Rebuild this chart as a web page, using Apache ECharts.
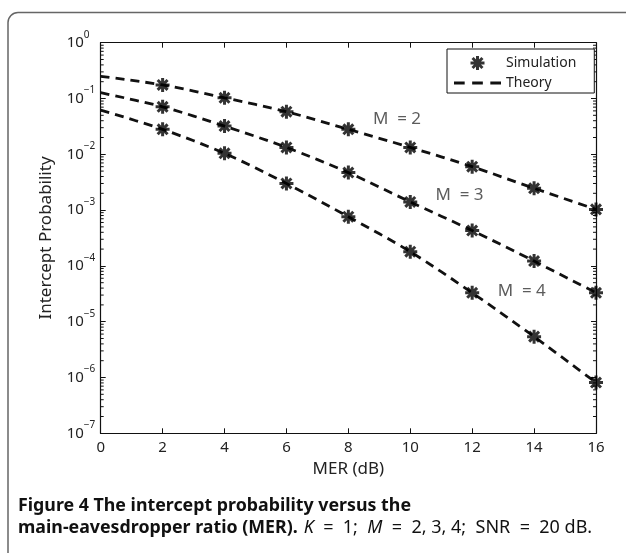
<!DOCTYPE html>
<html><head><meta charset="utf-8">
<script src="https://cdn.jsdelivr.net/npm/echarts@6/dist/echarts.min.js"></script>
<style>html,body{margin:0;padding:0;background:#fff}#c{width:626px;height:553px}</style>
</head><body><div id="c"></div>
<script>
// ---- data ----
const theoryX = [0, 2, 4, 6, 8, 10, 12, 14, 16];
const theoryM2 = [0.25, 0.175, 0.103, 0.058, 0.028, 0.0133, 0.006, 0.00246, 0.00103];
const theoryM3 = [0.127, 0.071, 0.032, 0.0133, 0.0047, 0.0014, 4.3e-4, 1.22e-4, 3.3e-5];
const theoryM4 = [0.062, 0.028, 0.0104, 0.0030, 7.6e-4, 1.8e-4, 3.3e-5, 5.4e-6, 8.1e-7];
const simX = [2, 4, 6, 8, 10, 12, 14, 16];
const simM2 = [0.175, 0.103, 0.058, 0.028, 0.0133, 0.006, 0.00246, 0.00103];
const simM3 = [0.071, 0.032, 0.0133, 0.0047, 0.0014, 4.3e-4, 1.22e-4, 3.3e-5];
const simM4 = [0.028, 0.0104, 0.0030, 7.6e-4, 1.8e-4, 3.3e-5, 5.4e-6, 8.1e-7];
const xTicks = [0, 2, 4, 6, 8, 10, 12, 14, 16];
const yTickExponents = ['0', '\u22121', '\u22122', '\u22123', '\u22124', '\u22125', '\u22126', '\u22127'];
const annoText = ['M  = 2', 'M  = 3', 'M  = 4'];
const annoX = [9.57, 11.59, 13.6];
const annoY = [0.0424, 0.00187, 3.6e-5];
const minorMultipliers = [2, 3, 4, 5, 6, 7, 8, 9];
const decades = [1e-7, 1e-6, 1e-5, 1e-4, 1e-3, 1e-2, 1e-1];
const captionLine1 = 'Figure 4 The intercept probability versus the';
const captionLine2Bold = 'main-eavesdropper ratio (MER).';
const captionLine2Rest = '{i|K}  =  1;  {i|M}  =  2, 3, 4;  SNR  =  20 dB.';

const FONT = 'Noto Sans';
const INK = '#111';
const STAR = 'path://M-7,-1.5L7,-1.5L7,1.5L-7,1.5ZM-1.5,-7L1.5,-7L1.5,7L-1.5,7ZM-3.89,-6.01L6.01,3.89L3.89,6.01L-6.01,-3.89ZM-6.01,3.89L3.89,-6.01L6.01,-3.89L-3.89,6.01Z';
const DASH_ICON = 'path://M0,0L10,0L10,3L0,3ZM17,0L27,0L27,3L17,3ZM34,0L44,0L44,3L34,3Z';

const zip = (xs, ys) => xs.map((x, i) => [x, ys[i]]);
const minorData = [];
decades.forEach(d => minorMultipliers.forEach(m => minorData.push([0, m * d])));

const mctx = document.createElement('canvas').getContext('2d');
function textWidth(t, font) { mctx.font = font; return mctx.measureText(t).width; }
const CAP_SIZE = 18;
const capBoldFont = 'bold ' + CAP_SIZE + 'px "' + FONT + '"';
const capScale = 393 / textWidth(captionLine1, capBoldFont);
const restX = 18 + textWidth(captionLine2Bold, capBoldFont) * capScale + 6;

const chart = echarts.init(document.getElementById('c'), null, {renderer: 'canvas'});

function lineSeries(data) {
  return {
    type: 'line', name: 'Theory', data: data, smooth: 0.3, showSymbol: false, symbol: 'none',
    lineStyle: {color: INK, width: 2.8, type: [9, 6]}, itemStyle: {color: INK},
    silent: true, z: 2
  };
}
function simSeries(data) {
  return {
    type: 'scatter', name: 'Simulation', data: data, symbol: STAR, symbolSize: 14,
    itemStyle: {color: '#000'}, silent: true, z: 3
  };
}

const option = {
  animation: false,
  textStyle: {fontFamily: FONT},
  grid: {left: 100.7, right: 30, top: 42.7, bottom: 119.7, containLabel: false},
  legend: {
    data: [{name: 'Simulation', icon: STAR}, {name: 'Theory', icon: DASH_ICON}],
    orient: 'vertical', left: 447, top: 49,
    itemWidth: 47, itemHeight: 14, itemGap: 6,
    padding: [7, 18, 3, 7],
    backgroundColor: '#fff', borderColor: INK, borderWidth: 1,
    textStyle: {fontFamily: FONT, fontSize: 14, color: '#222'},
    selectedMode: false
  },
  xAxis: [{
    type: 'value', min: 0, max: 16, interval: 2,
    name: 'MER (dB)', nameLocation: 'middle', nameGap: 26,
    nameTextStyle: {fontSize: 17, color: '#222', fontFamily: FONT},
    axisLine: {onZero: false, lineStyle: {color: INK, width: 1.2}},
    axisTick: {inside: true, length: 5, lineStyle: {color: INK}},
    axisLabel: {fontSize: 15, color: '#222', margin: 7,
      formatter: v => xTicks.indexOf(v) >= 0 ? String(v) : ''},
    splitLine: {show: false}
  }, {
    type: 'value', min: 0, max: 16, interval: 2, position: 'top',
    axisLine: {onZero: false, lineStyle: {color: INK, width: 1.2}},
    axisTick: {inside: true, length: 5, lineStyle: {color: INK}},
    axisLabel: {show: false}, splitLine: {show: false}
  }],
  yAxis: [{
    type: 'log', logBase: 10, min: 1e-7, max: 1, splitNumber: 7, position: 'left',
    name: 'Intercept Probability', nameLocation: 'middle', nameGap: 46, nameRotate: 90,
    nameTextStyle: {fontSize: 17, color: '#222', fontFamily: FONT},
    axisLine: {show: true, onZero: false, lineStyle: {color: INK, width: 1.2}},
    axisTick: {inside: true, length: 5, lineStyle: {color: INK}},
    axisLabel: {
      margin: 34, align: 'left', color: '#222',
      formatter: v => {
        const i = Math.round(-Math.log10(v));
        return '{b|10}{s|' + yTickExponents[i] + '}';
      },
      rich: {
        b: {fontSize: 15, lineHeight: 26, color: '#222', fontFamily: FONT},
        s: {fontSize: 10, lineHeight: 10, verticalAlign: 'top', color: '#222', fontFamily: FONT}
      }
    },
    splitLine: {show: false}
  }, {
    type: 'log', logBase: 10, min: 1e-7, max: 1, splitNumber: 7, position: 'right',
    axisLine: {show: true, onZero: false, lineStyle: {color: INK, width: 1.2}},
    axisTick: {inside: true, length: 5, lineStyle: {color: INK}},
    axisLabel: {show: false}, splitLine: {show: false}
  }],
  graphic: [
    {type: 'rect', shape: {x: 8, y: 12.5, width: 700, height: 700, r: 10},
     style: {fill: 'none', stroke: '#666', lineWidth: 1.5}, silent: true, z: -10},
    {type: 'text', x: 18, y: 506, scaleX: capScale, silent: true,
     style: {text: captionLine1, font: capBoldFont, fill: '#111', verticalAlign: 'middle', align: 'left'}},
    {type: 'text', x: 18, y: 528, scaleX: capScale, silent: true,
     style: {text: captionLine2Bold, font: capBoldFont, fill: '#111', verticalAlign: 'middle', align: 'left'}},
    {type: 'text', x: restX, y: 528, silent: true,
     style: {
       text: captionLine2Rest,
       fontFamily: FONT, fontSize: CAP_SIZE, fill: '#111', verticalAlign: 'middle', align: 'left',
       rich: {
         i: {fontStyle: 'italic', fontSize: CAP_SIZE, fontFamily: FONT, fill: '#111'}
       }
     }}
  ],
  series: [
    lineSeries(zip(theoryX, theoryM2)),
    lineSeries(zip(theoryX, theoryM3)),
    lineSeries(zip(theoryX, theoryM4)),
    simSeries(zip(simX, simM2)),
    simSeries(zip(simX, simM3)),
    simSeries(zip(simX, simM4)),
    {
      type: 'scatter', name: 'annotations', symbolSize: 0, silent: true,
      data: annoText.map((t, i) => ({value: [annoX[i], annoY[i]], label: {formatter: t}})),
      label: {show: true, position: 'inside', fontSize: 17, color: '#333', fontFamily: FONT}
    },
    {
      type: 'custom', name: 'minorTicks', silent: true, clip: false,
      data: minorData,
      renderItem: (params, api) => {
        const v = api.value(1);
        const l = api.coord([0, v]);
        const r = api.coord([16, v]);
        return {type: 'group', children: [
          {type: 'line', shape: {x1: l[0], y1: l[1], x2: l[0] + 3, y2: l[1]}, style: {stroke: INK, lineWidth: 1}},
          {type: 'line', shape: {x1: r[0], y1: r[1], x2: r[0] - 3, y2: r[1]}, style: {stroke: INK, lineWidth: 1}}
        ]};
      }
    }
  ]
};
chart.setOption(option);
</script>
</body></html>
